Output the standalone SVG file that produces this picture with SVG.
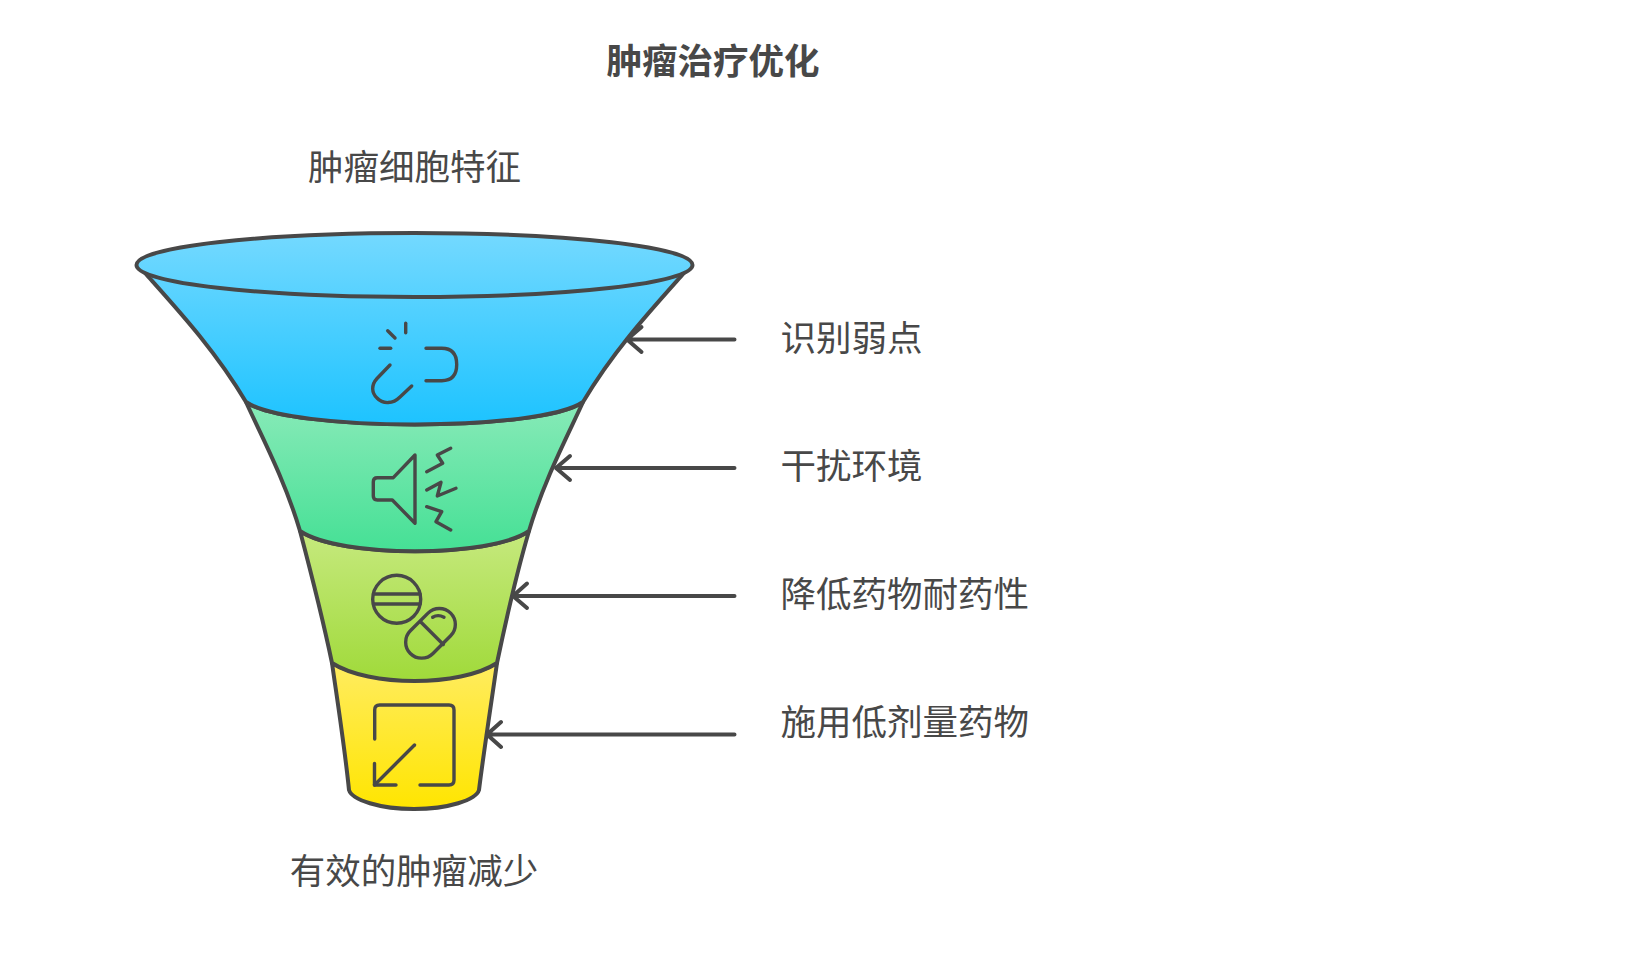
<svg xmlns="http://www.w3.org/2000/svg" width="1633" height="962" viewBox="0 0 1633 962">
<style>
text{font-family:"Noto Sans CJK SC","Liberation Sans",sans-serif;font-size:35.5px;fill:#484848}
.title{font-weight:700}
.m{text-anchor:middle}
.band{stroke:#484848;stroke-width:4;stroke-linejoin:round}
.icon{fill:none;stroke:#484848;stroke-width:3.4;stroke-linecap:round;stroke-linejoin:round}
.conn{fill:none;stroke:#484848;stroke-width:4;stroke-linecap:round;stroke-linejoin:round}
</style>
<defs>
<linearGradient id="gBlue" gradientUnits="userSpaceOnUse" x1="0" y1="233" x2="0" y2="425"><stop offset="0" stop-color="#74D9FF"/><stop offset="1" stop-color="#1DC3FF"/></linearGradient>
<linearGradient id="gGreen" gradientUnits="userSpaceOnUse" x1="0" y1="402" x2="0" y2="552"><stop offset="0" stop-color="#88EAB8"/><stop offset="1" stop-color="#45E095"/></linearGradient>
<linearGradient id="gLime" gradientUnits="userSpaceOnUse" x1="0" y1="531" x2="0" y2="681"><stop offset="0" stop-color="#C6E97E"/><stop offset="1" stop-color="#A0DA3A"/></linearGradient>
<linearGradient id="gYellow" gradientUnits="userSpaceOnUse" x1="0" y1="663" x2="0" y2="809"><stop offset="0" stop-color="#FFEC60"/><stop offset="1" stop-color="#FFE500"/></linearGradient>
</defs>
<rect width="1633" height="962" fill="#fff"/>
<text class="title m" x="713" y="73.5">肿瘤治疗优化</text>
<text class="m" x="414.5" y="180">肿瘤细胞特征</text>
<text class="m" x="414" y="884">有效的肿瘤减少</text>
<g id="stage-yellow">
<path class="band" fill="url(#gYellow)" d="M332,663 C338,705 345,750 349,790 C352,800 380,809 414,809 C448,809 476,800 479,790 C484,750 491,705 497,663 C460,685 369,685 332,663Z"/>
<g class="icon"><path d="M374.7,739 V710 Q374.7,705 379.7,705 H449 Q454,705 454,710 V780 Q454,785 449,785 H420"/><path d="M396,785 H374.5 V763.5"/><path d="M414.5,745 L374.5,785"/></g>
<text x="780.5" y="735">施用低剂量药物</text>
</g>
<g id="stage-lime">
<path class="band" fill="url(#gLime)" d="M300,531 C309,565 323,620 332,663 C369,687 460,687 497,663 C506,620 519,565 529,531 C490,558 340,558 300,531Z"/>
<g class="icon"><circle cx="396.7" cy="599.3" r="24"/><path d="M373.5,594 H420 M373.5,604 H420"/><rect x="-28.5" y="-16" width="57" height="32" rx="16" transform="translate(430.5 633.3) rotate(-45)"/><path d="M421.3,622.5 L443.3,644.5"/><path d="M432.7,617.3 Q438,614 444,617.3"/></g>
<text x="780.5" y="607">降低药物耐药性</text>
</g>
<g id="stage-green">
<path class="band" fill="url(#gGreen)" d="M246,402 C260,433 285,480 300,531 C340,558 490,558 529,531 C544,480 569,433 583,402 C540,432 290,432 246,402Z"/>
<g class="icon"><path d="M415,455 L393.3,477.7 H377.3 Q373.3,477.7 373.3,481.7 V496 Q373.3,500 377.3,500 H392.3 L415,523.3Z"/><path d="M450.7,448.3 L437.3,455 L442.7,463.3 L426.7,471.7"/><path d="M426.7,490 L441,482.3 L437.3,496 L456,488.3"/><path d="M426.7,506.7 L441.7,511.7 L436,521.7 L450.7,530"/></g>
<text x="780.5" y="479">干扰环境</text>
</g>
<g id="stage-blue">
<path class="band" fill="url(#gBlue)" d="M145,273 C178,310 215,350 246,402 C290,432 540,432 583,402 C614,350 651,310 684,273 L414.5,265Z"/>
<path class="band" fill="url(#gBlue)" d="M136.5,265 C136.5,247 260,233 414.5,233 C569,233 692.5,247 692.5,265 C692.5,283 569,297 414.5,297 C260,297 136.5,283 136.5,265Z"/>
<g class="icon"><path d="M405.7,323.3 V332.7"/><path d="M387.7,330.7 L395,338"/><path d="M380,348.3 H390.7"/><path d="M426,348.3 H441.7 Q456.7,348.3 456.7,364.5 Q456.7,380.7 441.7,380.7 H426"/><path d="M390,365 L377,378.5 C371,385 371.5,393 377,398 C383,404.5 393,404 400,397 L411.7,386"/></g>
<text x="780.5" y="351">识别弱点</text>
</g>
<g id="connectors" class="conn">
<path d="M734.5,339.5 H627 M641.5,327 L627,339.5 L641.5,352"/>
<path d="M734.5,468 H556 M570,456 L556,468 L570,480"/>
<path d="M734.5,596 H513 M527,583.5 L513,596 L527,608"/>
<path d="M734.5,734.5 H487 M501,722 L487,734.5 L501,747"/>
</g>
</svg>
